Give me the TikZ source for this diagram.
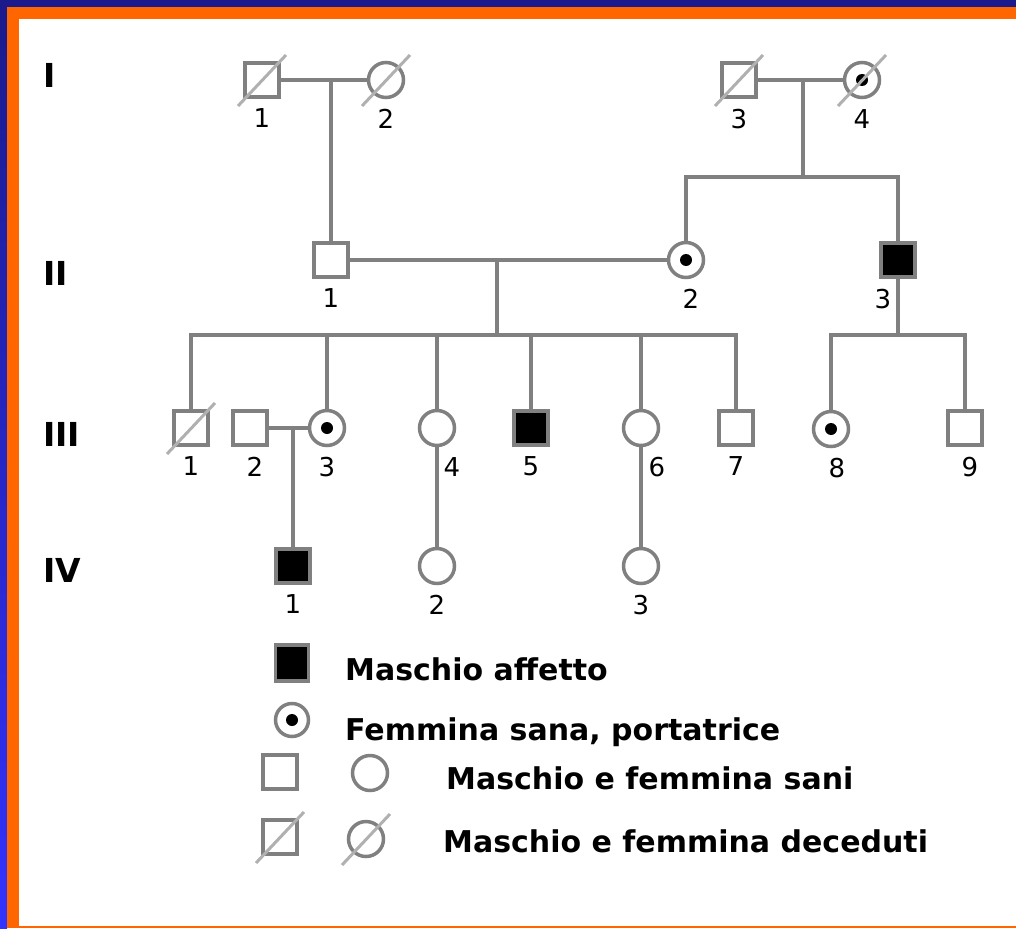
\documentclass[tikz,border=0pt]{standalone}
\usepackage{fontspec}
\setmainfont{DejaVu Sans}
\usetikzlibrary{positioning}

\definecolor{pedgray}{HTML}{808080}
\definecolor{slashgray}{HTML}{B0B0B0}
\definecolor{framenavy}{HTML}{1A1A8C}
\definecolor{frameblue}{HTML}{3333FF}
\definecolor{frameorange}{HTML}{FF6600}

\newcommand\numfont{\fontsize{26}{26}\selectfont}
\newcommand\legendfont{\fontsize{30}{30}\selectfont\bfseries}
\newcommand\genfont{\fontsize{33}{33}\selectfont\bfseries}

\tikzset{
  male/.style={rectangle, draw=pedgray, line width=3.5pt, minimum size=34pt, inner sep=0pt},
  female/.style={circle, draw=pedgray, line width=3.5pt, minimum size=35pt, inner sep=0pt},
  affected/.style={fill=black},
  carrier/.style={path picture={\fill[black] (path picture bounding box.center) circle (6pt);}},
  link/.style={draw=pedgray, line width=3.5pt},
  slash/.style={draw=slashgray, line width=3pt},
  gen/.style={anchor=base west, inner sep=0pt, font=\genfont},
  legtext/.style={anchor=base west, inner sep=0pt, font=\legendfont},
}

\begin{document}
\begin{tikzpicture}[x=1pt, y=-1pt, label distance=10pt,
    every label/.style={font=\numfont, inner sep=0pt}]
  \useasboundingbox (0,0) rectangle (1016,928);

  % frame
  \fill[framenavy] (0,0) rectangle (1016,7);
  \shade[top color=framenavy, bottom color=frameblue] (0,0) rectangle (7,928);
  \fill[frameorange] (7,7) rectangle (1016,19);
  \fill[frameorange] (7,7) rectangle (19,928);
  \fill[frameorange] (7,926) rectangle (1016,928);

  % generations
  \node[gen] (gI) at (43,88) {I};
  \node[gen] (gII) at (43,285) {II};
  \node[gen] (gIII) at (43,446) {III};
  \node[gen] (gIV) at (43,582) {IV};

  % generation I
  \node[male, label=below:1] (I1) at (262,80) {};
  \node[female, label=below:2] (I2) at (386,80) {};
  \node[male, label=below:3] (I3) at (739,80) {};
  \node[female, carrier, label=below:4] (I4) at (862,80) {};

  % generation II
  \node[male, label=below:1] (II1) at (331,260) {};
  \node[female, carrier, label={[xshift=5pt]below:2}] (II2) at (686,260) {};
  \node[male, affected, label={[xshift=-15pt]below:3}] (II3) at (898,260) {};

  % generation III
  \node[male, label=below:1] (III1) at (191,428) {};
  \node[male, label={[xshift=5pt]below:2}] (III2) at (250,428) {};
  \node[female, carrier, label=below:3] (III3) at (327,428) {};
  \node[female, label={[xshift=15pt]below:4}] (III4) at (437,428) {};
  \node[male, affected, label=below:5] (III5) at (531,428) {};
  \node[female, label={[xshift=16pt]below:6}] (III6) at (641,428) {};
  \node[male, label=below:7] (III7) at (736,428) {};
  \node[female, carrier, label={[xshift=6pt]below:8}] (III8) at (831,429) {};
  \node[male, label={[xshift=5pt]below:9}] (III9) at (965,428) {};

  % generation IV
  \node[male, affected, label=below:1] (IV1) at (293,566) {};
  \node[female, label=below:2] (IV2) at (437,566) {};
  \node[female, label=below:3] (IV3) at (641,566) {};

  % couples and sibships
  \coordinate (m1) at (331,80);
  \coordinate (m2) at (803,80);
  \coordinate (s2) at (803,177);
  \coordinate (m3) at (497,260);
  \coordinate (s3) at (497,335);
  \coordinate (s4) at (898,335);
  \coordinate (m4) at (293,428);

  \draw[link] (I1) -- (I2);
  \draw[link] (m1) -- (II1);
  \draw[link] (I3) -- (I4);
  \draw[link] (m2) -- (s2);
  \draw[link] (II2) |- (s2) -| (II3);

  \draw[link] (II1) -- (II2);
  \draw[link] (m3) -- (s3);
  \draw[link] (III1) |- (s3) -| (III7);
  \foreach \c in {III3,III4,III5,III6}
    \draw[link] (\c) -- (\c |- s3);
  \draw[link] (II3) -- (s4);
  \draw[link] (III8) |- (s4) -| (III9);

  \draw[link] (III2) -- (III3);
  \draw[link] (m4) -- (IV1);
  \draw[link] (III4) -- (IV2);
  \draw[link] (III6) -- (IV3);

  % legend
  \node[male, affected, minimum width=33pt, minimum height=36pt] (LA) at (292,663) {};
  \node[legtext] (tA) at (345,680) {Maschio affetto};
  \node[female, carrier, minimum size=33pt] (LC) at (292,720) {};
  \node[legtext] (tC) at (345,740) {Femmina sana, portatrice};
  \node[male] (LM) at (280,772) {};
  \node[female] (LF) at (370,773) {};
  \node[legtext] (tS) at (446,789) {Maschio e femmina sani};
  \node[male] (LMd) at (280,837) {};
  \node[female] (LFd) at (366,839) {};
  \node[legtext] (tD) at (443,852) {Maschio e femmina deceduti};

  % deceased
  \foreach \n in {I1,I2,I3,I4,III1,LMd,LFd}
    \draw[slash] ([shift={(-24pt,-26pt)}]\n.center) -- ([shift={(24pt,25pt)}]\n.center);
\end{tikzpicture}
\end{document}
